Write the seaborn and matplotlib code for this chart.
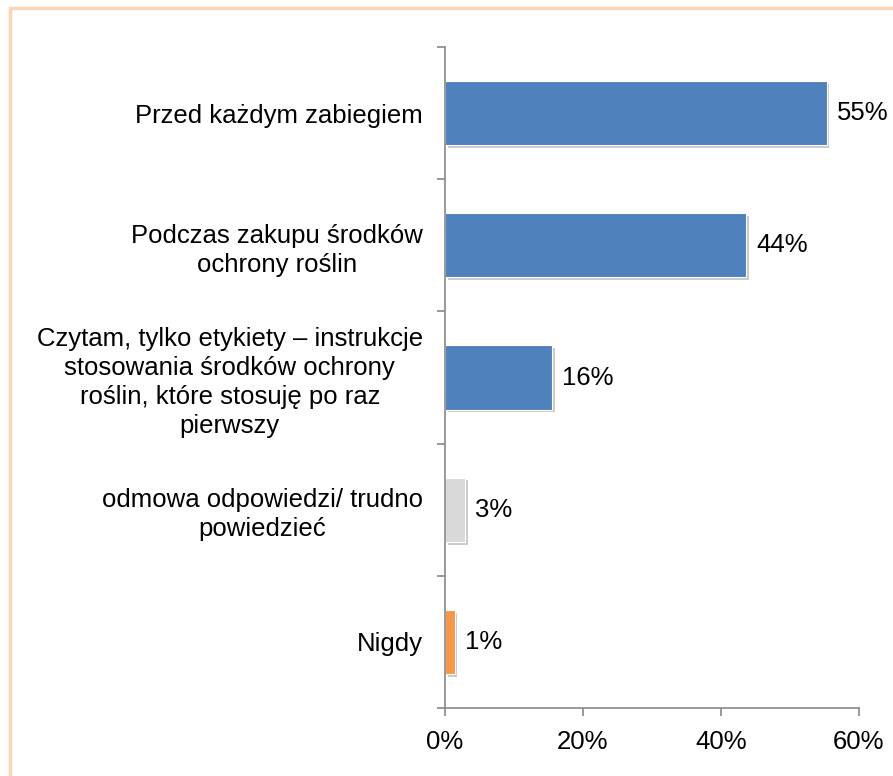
import numpy as np
import pandas as pd
import seaborn as sns
import matplotlib.pyplot as plt
import matplotlib.patheffects as pe
from matplotlib.patches import Rectangle

categories = ["Przed każdym zabiegiem",
              "Podczas zakupu środków\nochrony roślin",
              "Czytam, tylko etykiety – instrukcje\nstosowania środków ochrony\nroślin, które stosuję po raz\npierwszy",
              "odmowa odpowiedzi/ trudno\npowiedzieć",
              "Nigdy"]
values = [55.3, 43.6, 15.5, 2.9, 1.4]
value_labels = ["55%", "44%", "16%", "3%", "1%"]
bar_colors = ["#4F81BD", "#4F81BD", "#4F81BD", "#D9D9D9", "#F79646"]
x_ticks = [0, 20, 40, 60]
x_ticklabels = ["0%", "20%", "40%", "60%"]

sns.set_style("white")
plt.rcParams['font.family'] = ['Liberation Sans', 'DejaVu Sans']
plt.rcParams['text.color'] = 'black'
plt.rcParams['xtick.color'] = 'black'
plt.rcParams['ytick.color'] = 'black'

df = pd.DataFrame({"cat": categories, "val": values})

fig = plt.figure(figsize=(8.93, 7.76), dpi=100)
ax = fig.add_axes([0.4983, 0.0876, 0.4636, 0.8518])

sns.barplot(data=df, x="val", y="cat", hue="cat", palette=bar_colors, saturation=1,
            legend=False, width=0.485, ax=ax, edgecolor="white", linewidth=0.8)

for bar in ax.patches:
    bar.set_path_effects([pe.SimplePatchShadow(offset=(2, -2), shadow_rgbFace="#999999", alpha=0.5),
                          pe.Normal()])

for i, (v, lab) in enumerate(zip(values, value_labels)):
    ax.text(v + 1.5, i, lab, va="center", ha="left", fontsize=18.5, color="black")

ax.set_xlim(0, 60)
ax.set_ylim(4.5, -0.5)
ax.set_xticks(x_ticks)
ax.set_xticklabels(x_ticklabels, fontsize=18.5)
ax.set_xlabel("")
ax.set_ylabel("")
ax.set_yticks(range(len(categories)))
ax.set_yticklabels(categories, fontsize=18.5)
for t in ax.get_yticklabels():
    t.set_multialignment("center")
    t.set_linespacing(1.25)
ax.set_yticks(np.arange(-0.5, 5, 1), minor=True)

ax.tick_params(axis="y", which="major", length=0, pad=16)
ax.tick_params(axis="y", which="minor", length=6, width=1.2, color="#888888", direction="out", left=True)
ax.tick_params(axis="x", which="major", length=6, width=1.2, color="#888888", direction="out", bottom=True, pad=10)

for s in ["top", "right"]:
    ax.spines[s].set_visible(False)
for s in ["left", "bottom"]:
    ax.spines[s].set_color("#888888")
    ax.spines[s].set_linewidth(1.2)

# light orange frame around the chart area
fig.patches.append(Rectangle((10 / 893, -0.1), 1.2, 0.1 + (776 - 8.5) / 776,
                             transform=fig.transFigure, fill=False,
                             edgecolor="#FBD5B5", linewidth=2.5))

fig.savefig("out.png", dpi=100)
